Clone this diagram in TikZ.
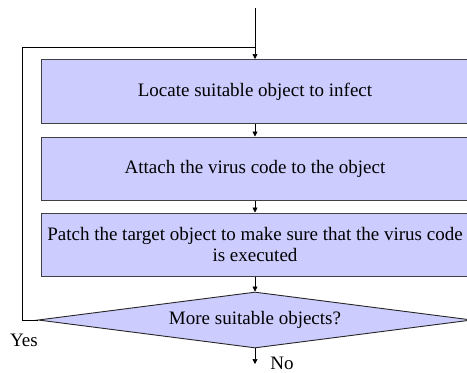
\documentclass[tikz,border=0pt]{standalone}
\usepackage{fontspec}
\setmainfont{Liberation Serif}
\usetikzlibrary{shapes.geometric,arrows.meta}
\definecolor{boxfill}{HTML}{CCCCFF}
\begin{document}
\begin{tikzpicture}[x=1pt,y=-1pt,
  stepbox/.style={draw=black!75, line width=1pt, fill=boxfill, minimum width=428pt,
    minimum height=63pt, inner sep=0pt, font=\fontsize{19}{21}\selectfont, align=center},
  decision/.style={diamond, draw=black!85, line width=0.9pt, fill=boxfill, minimum width=434pt,
    minimum height=56pt, aspect=7.75, inner sep=0pt, font=\fontsize{19}{21}\selectfont},
  lbl/.style={font=\fontsize{19}{21}\selectfont, inner sep=0pt},
  conn/.style={draw, line width=0.7pt, -{Triangle[length=5pt,width=5pt]}},
  plain/.style={draw, line width=0.7pt},
]
\useasboundingbox (0,0) rectangle (467,373);
\coordinate (start) at (255,8);
\coordinate (j) at (255,47);
\coordinate (lc) at (22,47);
\coordinate (end) at (255,364);
\node[stepbox, minimum height=64pt] (b1) at (255,91.5) {Locate suitable object to infect};
\node[stepbox] (b2) at (255,168.5) {Attach the virus code to the object};
\node[stepbox] (b3) at (255,244.5) {Patch the target object to make sure that the virus code\\is executed};
\node[decision] (d) at (255,320) {More suitable objects?};
\node[lbl] (yes) at (24,340) {Yes};
\node[lbl] (no) at (282,363.5) {No};
\draw[conn] (start) -- (b1.north);
\draw[conn] (b1.south) -- (b2.north);
\draw[conn] (b2.south) -- (b3.north);
\draw[conn] (b3.south) -- (d.north);
\draw[conn] (d.south) -- (end);
\draw[plain] (d.west) -| (lc) -- (j);
\end{tikzpicture}
\end{document}
